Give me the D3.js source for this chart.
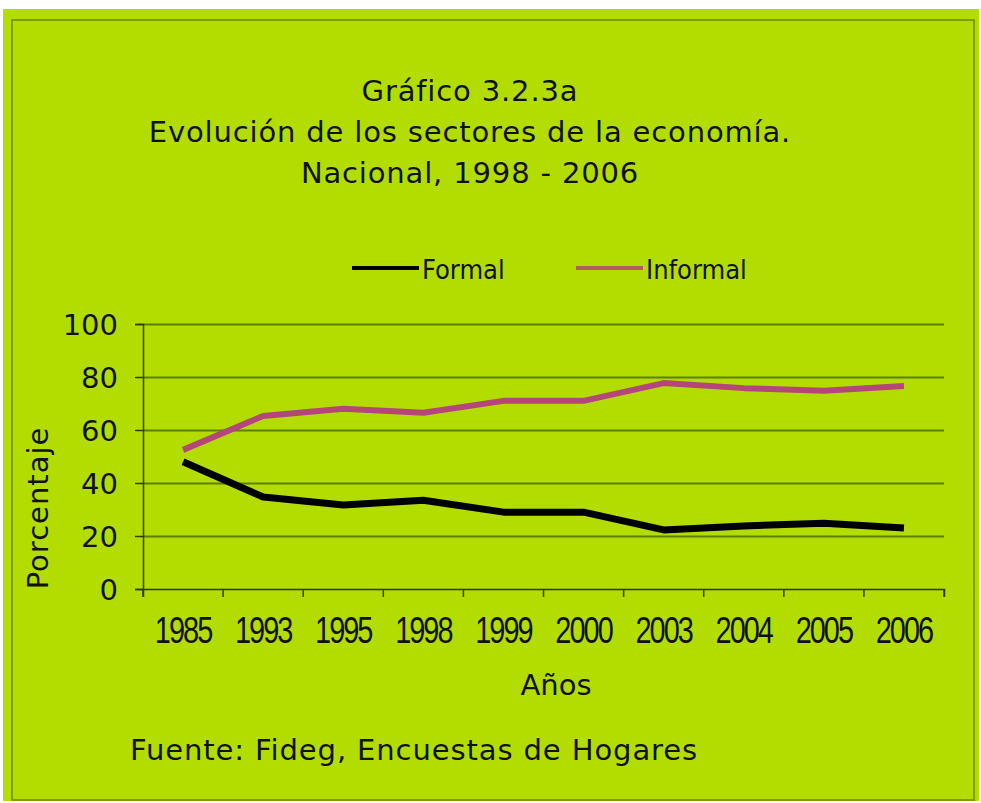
<!DOCTYPE html>
<meta charset="utf-8">
<style>
body { margin: 0; background: #fff; }
.grid line { stroke: #5f7f00; stroke-width: 2px; }
.grid path { display: none; }
.axis path, .axis line { stroke: #2a3a00; stroke-width: 1.5px; }
.tick text { fill: #111; }
.txt { font-family: "DejaVu Sans", sans-serif; fill: #111; }
.line { fill: none; stroke-linejoin: round; stroke-linecap: butt; }
</style>
<body>
<script src="https://cdn.jsdelivr.net/npm/d3@7"></script>
<script>
// data
var years = ["1985", "1993", "1995", "1998", "1999", "2000", "2003", "2004", "2005", "2006"];
var formal = [48, 34.7, 31.7, 33.5, 29, 29, 22.3, 23.8, 24.8, 23];
var informal = [52.5, 65.3, 68, 66.5, 71, 71, 77.7, 75.8, 74.8, 76.6];
var yTicks = [0, 20, 40, 60, 80, 100];

var W = 981, H = 803;
var svg = d3.select("body").append("svg").attr("width", W).attr("height", H);

// panel background and inner frame
svg.append("rect").attr("x", 3).attr("y", 9).attr("width", 976).attr("height", 792).attr("fill", "#b3dd00");
svg.append("rect").attr("x", 12).attr("y", 20).attr("width", 962).attr("height", 780)
    .attr("fill", "none").attr("stroke", "#7d9c00").attr("stroke-width", 2);

// scales
var x = d3.scaleBand().domain(years).range([143, 944]);
var y = d3.scaleLinear().domain([0, 100]).range([589, 324]);

// gridlines
svg.append("g").attr("class", "grid")
    .attr("transform", "translate(143,0)")
    .call(d3.axisLeft(y).tickValues(yTicks.slice(1)).tickSize(-801).tickFormat(""));

// y axis
var ya = svg.append("g").attr("class", "axis")
    .attr("transform", "translate(143,0)")
    .call(d3.axisLeft(y).tickValues(yTicks).tickSize(8).tickPadding(17));
ya.selectAll("text").style("font-family", "'DejaVu Sans', sans-serif").style("font-size", "29px")
    .attr("dy", "0.36em");

// x axis
var xa = svg.append("g").attr("class", "axis")
    .attr("transform", "translate(0,589)")
    .call(d3.axisBottom(x).tickSize(8).tickPadding(20));
xa.selectAll(".tick line").remove();
xa.selectAll(".bt").data(x.domain().concat(["end"])).enter().append("line")
    .attr("x1", function(d, i) { return 143 + i * x.bandwidth(); })
    .attr("x2", function(d, i) { return 143 + i * x.bandwidth(); })
    .attr("y1", 0).attr("y2", 8)
    .attr("stroke", "#2a3a00").attr("stroke-width", 1.5);
xa.selectAll("text").style("font-family", "'Liberation Sans', Arial, sans-serif").style("font-size", "37px")
    .style("letter-spacing", "-2.5px").attr("transform", "scale(0.78,1)");

// lines
var line = function(vals) {
  return d3.line()
    .x(function(d, i) { return x(years[i]) + x.bandwidth() / 2; })
    .y(function(d) { return y(d); })(vals);
};
svg.append("path").attr("class", "line").attr("d", line(informal))
    .attr("stroke", "#b5467a").attr("stroke-width", 6);
svg.append("path").attr("class", "line").attr("d", line(formal))
    .attr("stroke", "#000").attr("stroke-width", 7);

// titles
var titles = ["Gráfico 3.2.3a", "Evolución de los sectores de la economía.", "Nacional, 1998 - 2006"];
svg.selectAll(".title").data(titles).enter().append("text")
    .attr("class", "txt")
    .attr("x", 470).attr("y", function(d, i) { return 101 + i * 41; })
    .attr("text-anchor", "middle").style("font-size", "29px").style("letter-spacing", "0.85px")
    .text(function(d) { return d; });

// legend
var legend = [{name: "Formal", color: "#000", x: 352}, {name: "Informal", color: "#b25c5c", x: 576}];
var lg = svg.selectAll(".lg").data(legend).enter().append("g");
lg.append("line").attr("x1", function(d) { return d.x; }).attr("x2", function(d) { return d.x + 67; })
    .attr("y1", 268).attr("y2", 268).attr("stroke", function(d) { return d.color; }).attr("stroke-width", 4);
lg.append("text").attr("class", "txt").attr("x", function(d) { return d.x + 70; }).attr("y", 279)
    .style("font-family", "'DejaVu Sans Condensed', 'DejaVu Sans', sans-serif")
    .style("font-size", "27px").text(function(d) { return d.name; });

// axis titles
svg.append("text").attr("class", "txt").attr("transform", "translate(48,508) rotate(-90)")
    .attr("text-anchor", "middle").style("font-size", "29px").style("letter-spacing", "1px").text("Porcentaje");
svg.append("text").attr("class", "txt").attr("x", 556).attr("y", 695)
    .attr("text-anchor", "middle").style("font-size", "29px").text("Años");

// source
svg.append("text").attr("class", "txt").attr("x", 130).attr("y", 760)
    .style("font-size", "29px").style("letter-spacing", "0.9px").text("Fuente: Fideg, Encuestas de Hogares");
</script>
</body>
